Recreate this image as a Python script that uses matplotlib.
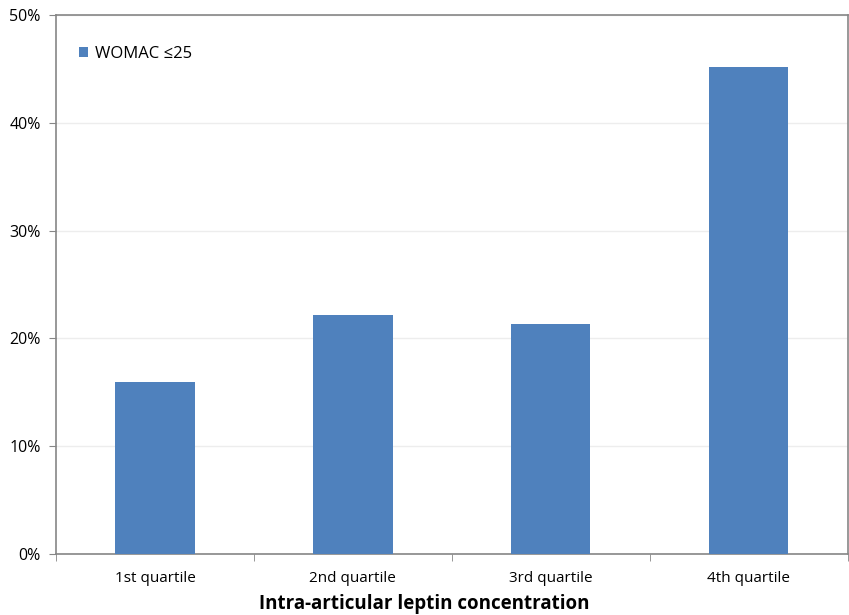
import matplotlib
matplotlib.use("Agg")
import matplotlib.pyplot as plt
from matplotlib.ticker import FixedLocator, PercentFormatter
import numpy as np

categories = ["1st quartile", "2nd quartile", "3rd quartile", "4th quartile"]
values = [16.0, 22.2, 21.3, 45.2]
series_name = "WOMAC \u226425"
yticks = [0, 10, 20, 30, 40, 50]

plt.rcParams['font.family'] = ['Open Sans', 'DejaVu Sans']

fig = plt.figure(figsize=(8.49, 6.15), dpi=100)
ax = fig.add_axes([0.066, 0.0992, 0.9325, 0.8764])

x = np.arange(len(categories))
ax.bar(x, values, width=0.4, color="#4F81BD", label=series_name, zorder=3)

ax.set_xlim(-0.5, len(categories) - 0.5)
ax.set_ylim(0, 50)
ax.set_yticks(yticks)
ax.yaxis.set_major_formatter(PercentFormatter(decimals=0))
ax.grid(axis='y', color='#EDEDED', linewidth=1.0, zorder=0)

ax.set_xticks(x)
ax.set_xticklabels(categories, fontsize=11)
ax.tick_params(axis='x', which='major', length=0, pad=12)
ax.xaxis.set_minor_locator(FixedLocator(np.arange(-0.5, len(categories), 1.0)))
ax.tick_params(axis='x', which='minor', length=5, color='#868686', direction='out')
ax.tick_params(axis='y', length=5, color='#868686', labelsize=11.5, pad=6)

for s in ax.spines.values():
    s.set_color('#868686')
    s.set_linewidth(1.2)

ax.set_xlabel("Intra-articular leptin concentration", fontsize=13.5, fontweight='bold')
ax.xaxis.set_label_coords(0.465, -0.075)

ax.legend(loc='upper left', bbox_to_anchor=(0.01, 0.97), frameon=False, fontsize=12,
          handlelength=0.55, handleheight=0.55, handletextpad=0.4)

fig.savefig("out.png", dpi=100)
